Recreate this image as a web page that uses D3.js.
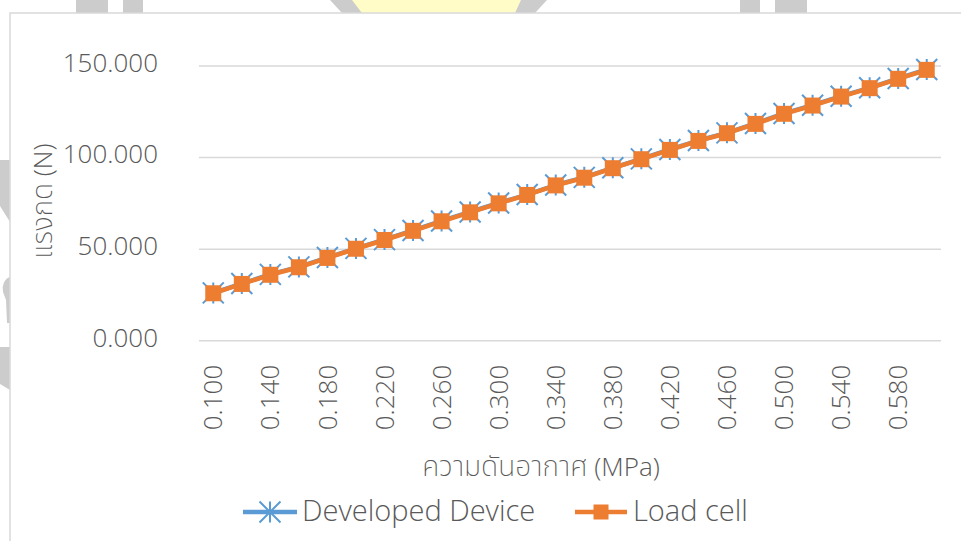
<!DOCTYPE html>
<html>
<head>
<meta charset="utf-8">
<script src="https://cdn.jsdelivr.net/npm/d3@7/dist/d3.min.js"></script>
<style>
  html, body { margin: 0; padding: 0; background: #ffffff; }
  svg { display: block; }
  text { font-family: "Open Sans", "Noto Sans", "DejaVu Sans", sans-serif; font-weight: 300; fill: #595959; }
  tspan.thai { font-family: "Noto Sans Thai", "Noto Sans Thai UI", "Loma", "Garuda", "Waree", "Umpush", "Noto Sans", sans-serif; font-weight: 200; font-size: 28px; }
</style>
</head>
<body>
<svg id="chart" width="961" height="541"></svg>
<script>
// Air pressure (MPa) categories
const pressures = [0.100, 0.120, 0.140, 0.160, 0.180, 0.200, 0.220, 0.240, 0.260, 0.280,
                   0.300, 0.320, 0.340, 0.360, 0.380, 0.400, 0.420, 0.440, 0.460, 0.480,
                   0.500, 0.520, 0.540, 0.560, 0.580, 0.600];
// Force measured by the developed device (N)
const developedDevice = [26.1, 31.2, 36.2, 40.3, 45.4, 50.4, 55.2, 60.2, 65.4, 70.3,
                         75.2, 79.8, 85.0, 89.2, 94.4, 99.3, 104.4, 109.3, 113.5, 118.6,
                         124.1, 128.6, 133.5, 138.1, 143.2, 148.1];
// Force measured by the load cell (N)
const loadCell = [25.9, 31.0, 36.0, 40.1, 45.2, 50.2, 55.0, 60.0, 65.2, 70.1,
                  75.0, 79.6, 84.8, 89.0, 94.2, 99.1, 104.2, 109.1, 113.3, 118.4,
                  123.9, 128.4, 133.3, 137.9, 143.0, 147.9];
const yTicks = [0, 50, 100, 150];
const xTickLabels = ["0.100", "0.140", "0.180", "0.220", "0.260", "0.300", "0.340",
                     "0.380", "0.420", "0.460", "0.500", "0.540", "0.580"];
const seriesNames = ["Developed Device", "Load cell"];
const xTitle = "ความดันอากาศ (MPa)";
const yTitle = "แรงกด (N)";

const blue = "#5b9bd5", orange = "#ed7d31", grid = "#d9d9d9";
const svg = d3.select("#chart");

// faint emblem behind the chart frame
const emblem = svg.append("g");
const greyFill = "#cccccc", yellowFill = "#fffcc8";
[[76,0,32,13],[123,0,20,13],[740,0,20,13],[775,0,32,13]].forEach(r =>
  emblem.append("rect").attr("x", r[0]).attr("y", r[1]).attr("width", r[2]).attr("height", r[3]).attr("fill", greyFill));
emblem.append("polygon").attr("points", "330,0 547,0 535,13 342,13").attr("fill", greyFill);
emblem.append("polygon").attr("points", "352,0 521,0 515,13 362,13").attr("fill", yellowFill);
emblem.append("polygon").attr("points", "0,160 10,160 10,222 0,206").attr("fill", greyFill);
emblem.append("path").attr("d", "M10,277 A10,12 0 0 0 3,292 L6,300 L7,323 L10,323 Z").attr("fill", greyFill);
emblem.append("polygon").attr("points", "0,347 10,347 10,390 0,384").attr("fill", greyFill);

// chart frame
svg.append("rect").attr("x", 10).attr("y", 13).attr("width", 960).attr("height", 540)
  .attr("fill", "#ffffff").attr("stroke", grid).attr("stroke-width", 1.5);

const plot = { left: 199, right: 941, top: 66, bottom: 340.7 };

const x = d3.scaleBand().domain(pressures.map(d => d.toFixed(3)))
  .range([plot.left, plot.right]).paddingInner(0).paddingOuter(0);
const xc = d => x(d.toFixed(3)) + x.bandwidth() / 2;
const y = d3.scaleLinear().domain([0, 150]).range([plot.bottom, plot.top]);

// horizontal gridlines
svg.append("g").selectAll("line").data(yTicks).join("line")
  .attr("x1", plot.left).attr("x2", plot.right)
  .attr("y1", d => y(d)).attr("y2", d => y(d))
  .attr("stroke", grid).attr("stroke-width", 1.5);

// y axis labels
const yAxis = d3.axisLeft(y).tickValues(yTicks).tickFormat(d3.format(".3f")).tickSize(0).tickPadding(0);
const yg = svg.append("g").attr("transform", `translate(158,-3)`).call(yAxis);
yg.select(".domain").remove();
yg.selectAll("text").attr("font-size", 26).attr("fill", "#595959")
  .style("font-family", '"Open Sans", "Noto Sans", sans-serif').style("font-weight", 300);

// x axis labels (rotated, every other category)
const xAxis = d3.axisBottom(x).tickValues(xTickLabels).tickSize(0).tickPadding(0);
const xg = svg.append("g").attr("transform", `translate(0,${plot.bottom})`).call(xAxis);
xg.select(".domain").remove();
xg.selectAll("text")
  .attr("font-size", 26).attr("fill", "#595959")
  .attr("transform", "rotate(-90)")
  .attr("text-anchor", "end")
  .attr("x", -24).attr("y", 0).attr("dy", "0.35em")
  .style("font-family", '"Open Sans", "Noto Sans", sans-serif').style("font-weight", 300);

// axis titles: Thai words and the bracketed unit set in separate runs
function titleRuns(sel, str) {
  const parts = str.split(/(\s*\(.*\))/).filter(s => s.length);
  parts.forEach(p => sel.append("tspan").attr("class", /\(/.test(p) ? "unit" : "thai").text(p));
}
svg.append("text").attr("x", 541).attr("y", 476).attr("text-anchor", "middle")
  .attr("font-size", 26).call(titleRuns, xTitle);
svg.append("text").attr("transform", "translate(52,201) rotate(-90)").attr("text-anchor", "middle")
  .attr("font-size", 26).call(titleRuns, yTitle);

// series
const line = d3.line().x((d, i) => xc(pressures[i])).y(d => y(d));

// asterisk marker: vertical spoke plus two diagonals
function starPath(cx, cy, r) {
  return `M${cx},${cy - r}L${cx},${cy + r}M${cx - r},${cy - r}L${cx + r},${cy + r}M${cx - r},${cy + r}L${cx + r},${cy - r}`;
}

svg.append("path").datum(developedDevice).attr("d", line)
  .attr("fill", "none").attr("stroke", blue).attr("stroke-width", 4.5).attr("stroke-linejoin", "round");
svg.append("g").selectAll("path").data(developedDevice).join("path")
  .attr("d", (d, i) => starPath(xc(pressures[i]), y(d), 10.5))
  .attr("stroke", blue).attr("stroke-width", 2).attr("fill", "none");

svg.append("path").datum(loadCell).attr("d", line)
  .attr("fill", "none").attr("stroke", orange).attr("stroke-width", 4.5).attr("stroke-linejoin", "round");
svg.append("g").selectAll("rect").data(loadCell).join("rect")
  .attr("x", (d, i) => xc(pressures[i]) - 8).attr("y", d => y(d) - 8)
  .attr("width", 16).attr("height", 16).attr("fill", orange);

// legend
const lg = svg.append("g");
lg.append("line").attr("x1", 243).attr("x2", 297).attr("y1", 512).attr("y2", 512)
  .attr("stroke", blue).attr("stroke-width", 4.5);
lg.append("path").attr("d", starPath(270, 512, 10.5)).attr("stroke", blue).attr("stroke-width", 2);
lg.append("text").attr("x", 302).attr("y", 521).attr("font-size", 29).text(seriesNames[0]);
lg.append("line").attr("x1", 575).attr("x2", 627).attr("y1", 512).attr("y2", 512)
  .attr("stroke", orange).attr("stroke-width", 4.5);
lg.append("rect").attr("x", 593.5).attr("y", 504.5).attr("width", 15).attr("height", 15).attr("fill", orange);
lg.append("text").attr("x", 633).attr("y", 521).attr("font-size", 29).text(seriesNames[1]);
</script>
</body>
</html>
